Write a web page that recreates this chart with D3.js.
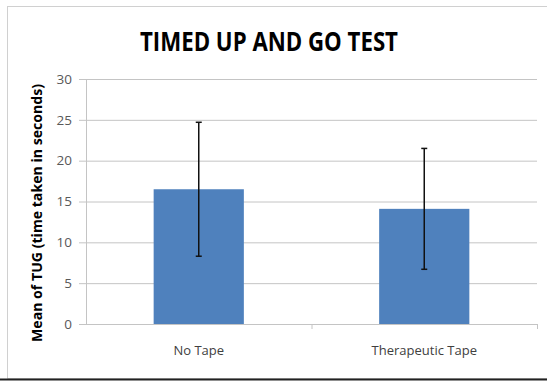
<!DOCTYPE html>
<html>
<head>
<meta charset="utf-8">
<script src="https://cdn.jsdelivr.net/npm/d3@7"></script>
<style>
  body { margin: 0; background: #fff; }
  text { font-family: "Open Sans", "Noto Sans", sans-serif; }
</style>
</head>
<body>
<script>
const categories = ["No Tape", "Therapeutic Tape"];
const means = [16.5, 14.1];
const errors = [8.2, 7.4];
const yTicks = [0, 5, 10, 15, 20, 25, 30];

const W = 547, H = 381;
const margin = {top: 79, right: 10, bottom: 57, left: 86};
const width = 537 - margin.left;
const height = 324 - margin.top;

const root = d3.select("body").append("svg")
   .attr("width", W)
   .attr("height", H);

// outer frame
root.append("rect")
   .attr("x", 7.5).attr("y", 6.5)
   .attr("width", W).attr("height", 372)
   .attr("fill", "none")
   .attr("stroke", "#d0d0d0");
root.append("line")
   .attr("x1", 0).attr("x2", W)
   .attr("y1", 379.5).attr("y2", 379.5)
   .attr("stroke", "#222").attr("stroke-width", 2);

const svg = root.append("g")
   .attr("transform", "translate(" + margin.left + "," + margin.top + ")");

const x = d3.scaleBand()
   .domain(categories)
   .range([0, width])
   .paddingInner(0.6)
   .paddingOuter(0.3);

const y = d3.scaleLinear()
   .domain([0, 30])
   .range([height, 0]);

// gridlines
svg.append("g")
   .selectAll("line")
   .data(yTicks)
   .enter()
   .append("line")
   .attr("x1", -7)
   .attr("x2", width)
   .attr("y1", d => y(d) + 0.5)
   .attr("y2", d => y(d) + 0.5)
   .attr("stroke", "#c4c4c4");

// y axis
const yAxis = svg.append("g")
   .call(d3.axisLeft(y).tickValues(yTicks).tickSize(0).tickPadding(14));
yAxis.select(".domain").attr("stroke", "#c4c4c4");
yAxis.selectAll("text")
   .style("font-size", "13.5px")
   .attr("fill", "#595959");

// x axis
const xAxis = svg.append("g")
   .attr("transform", "translate(0," + height + ")")
   .call(d3.axisBottom(x).tickSize(0).tickPadding(22));
xAxis.select(".domain").remove();
xAxis.selectAll("text")
   .style("font-size", "13px")
   .attr("fill", "#404040");
svg.append("g")
   .selectAll("line")
   .data([width / 2, width])
   .enter()
   .append("line")
   .attr("x1", d => d + 0.5).attr("x2", d => d + 0.5)
   .attr("y1", height).attr("y2", height + 5)
   .attr("stroke", "#c4c4c4");

// bars
svg.selectAll("rect.bar")
   .data(categories)
   .enter()
   .append("rect")
   .attr("class", "bar")
   .attr("x", d => x(d))
   .attr("y", (d, i) => y(means[i]))
   .attr("width", x.bandwidth())
   .attr("height", (d, i) => height - y(means[i]))
   .attr("fill", "#4f81bd");

// error bars
const eb = svg.selectAll("g.err")
   .data(categories)
   .enter()
   .append("g")
   .attr("class", "err")
   .attr("transform", d => "translate(" + (x(d) + x.bandwidth() / 2) + ",0)");
eb.append("line")
   .attr("y1", (d, i) => y(means[i] + errors[i]))
   .attr("y2", (d, i) => y(means[i] - errors[i]))
   .attr("stroke", "#111").attr("stroke-width", 1.5);
eb.append("line")
   .attr("x1", -3).attr("x2", 3)
   .attr("y1", (d, i) => y(means[i] + errors[i]))
   .attr("y2", (d, i) => y(means[i] + errors[i]))
   .attr("stroke", "#111").attr("stroke-width", 1.5);
eb.append("line")
   .attr("x1", -3).attr("x2", 3)
   .attr("y1", (d, i) => y(means[i] - errors[i]))
   .attr("y2", (d, i) => y(means[i] - errors[i]))
   .attr("stroke", "#111").attr("stroke-width", 1.5);

// title
root.append("text")
   .attr("x", 269)
   .attr("y", 51)
   .attr("text-anchor", "middle")
   .attr("textLength", 258)
   .attr("lengthAdjust", "spacingAndGlyphs")
   .style("font-size", "26px")
   .style("font-weight", "bold")
   .attr("fill", "#000")
   .text("TIMED UP AND GO TEST");

// y axis title
root.append("text")
   .attr("transform", "translate(42,213) rotate(-90)")
   .attr("text-anchor", "middle")
   .attr("textLength", 258)
   .attr("lengthAdjust", "spacingAndGlyphs")
   .style("font-size", "14px")
   .style("font-weight", "bold")
   .attr("fill", "#000")
   .text("Mean of TUG (time taken in seconds)");
</script>
</body>
</html>
